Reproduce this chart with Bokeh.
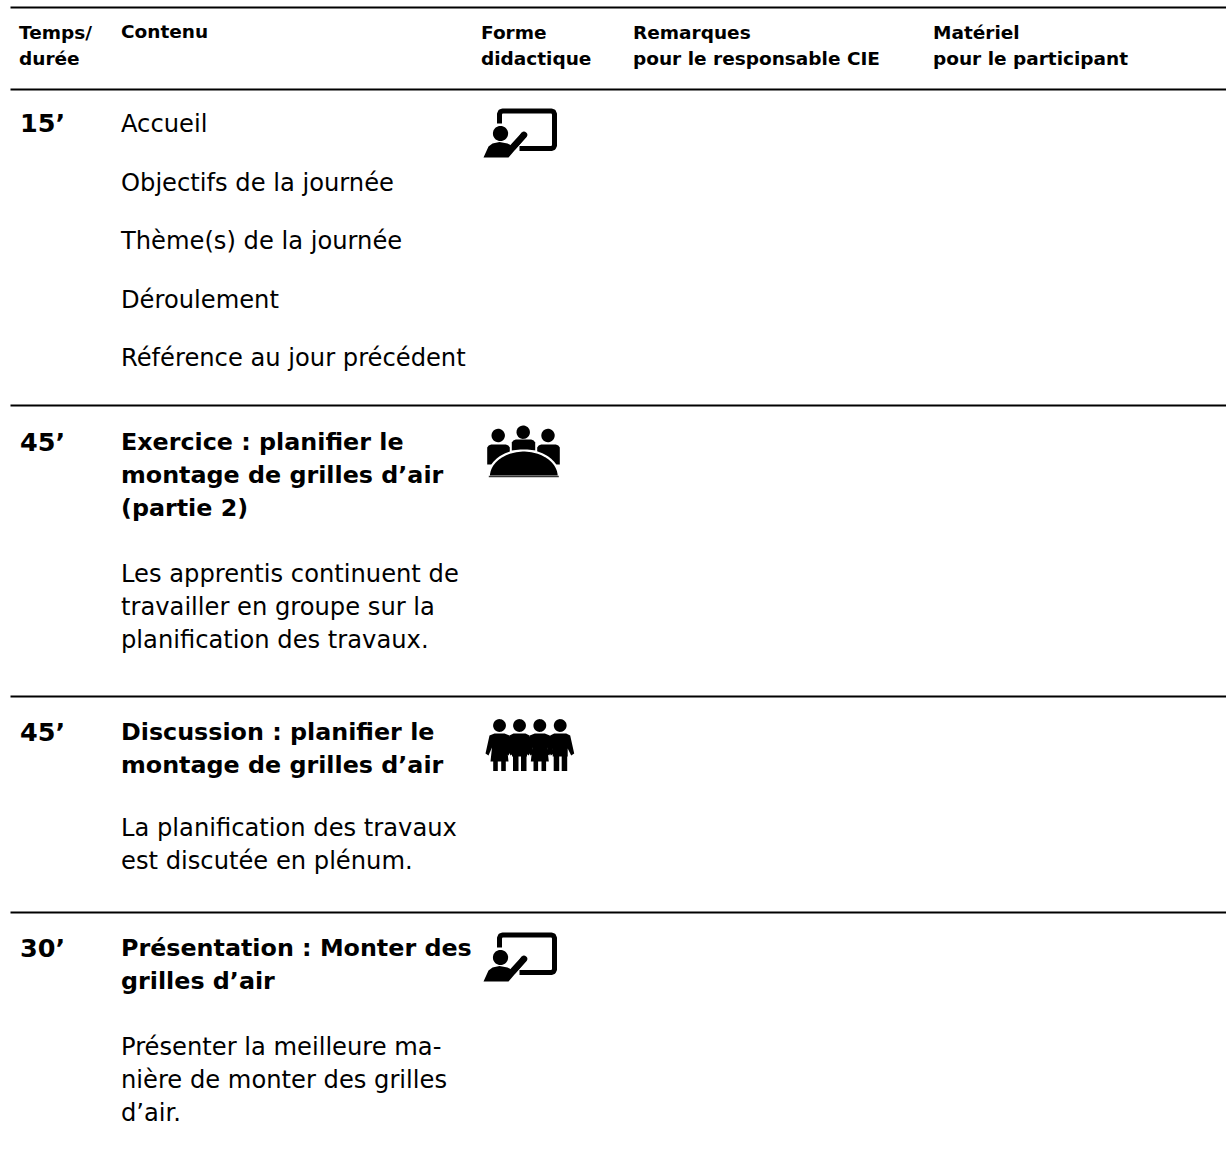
import numpy as np
from bokeh.plotting import figure
from bokeh.core.properties import value
from bokeh.embed import file_html
from bokeh.resources import INLINE

HEADERS = [("Temps/", "durée"), ("Contenu",), ("Forme", "didactique"),
           ("Remarques", "pour le responsable CIE"), ("Matériel", "pour le participant")]
TIMES = ["15’", "45’", "45’", "30’"]
FORMS = ["presentation", "plenum_table", "group", "presentation"]
ROW_LINES = [
    [("Accueil", 0), ("Objectifs de la journée", 0), ("Thème(s) de la journée", 0),
     ("Déroulement", 0), ("Référence au jour précédent", 0)],
    [("Exercice : planifier le", 1), ("montage de grilles d’air", 1), ("(partie 2)", 1),
     ("Les apprentis continuent de", 0), ("travailler en groupe sur la", 0),
     ("planification des travaux.", 0)],
    [("Discussion : planifier le", 1), ("montage de grilles d’air", 1),
     ("La planification des travaux", 0), ("est discutée en plénum.", 0)],
    [("Présentation : Monter des", 1), ("grilles d’air", 1),
     ("Présenter la meilleure ma-", 0), ("nière de monter des grilles", 0), ("d’air.", 0)],
]

# layout, in page pixels
FONT = "DejaVu Sans"
COL_X = [18.5, 120.5, 480.5, 632.5, 932.5]
RULES_Y = [7, 89, 405, 696, 912]
HEAD_BASE = [38, 64]
TIME_X = 19.5
TIME_BASE = [122.5, 441, 731.5, 947]
LINE_BASE = [
    [131, 190, 248, 307, 365],
    [449, 482, 515, 581, 614, 647],
    [739, 772, 835, 868],
    [955, 988, 1054, 1087, 1120],
]
LINE_SHIFT = -8
ICON_Y = [108, 425, 720, 932]
ICON_X = 483
BODY_SIZE = "24.2px"
BOLD_SIZE = "23.8px"
TIME_SIZE = "25.5px"
HEAD_SIZE = "18.5px"

W, H = 1226, 1160
p = figure(width=W, height=H, x_range=(0, W), y_range=(H, 0),
           output_backend="svg", toolbar_location=None, min_border=0,
           outline_line_color=None, background_fill_color="white", border_fill_color="white")
p.xaxis.visible = False
p.yaxis.visible = False
p.grid.visible = False

p.segment(x0=[10] * len(RULES_Y), x1=[1226] * len(RULES_Y), y0=RULES_Y, y1=RULES_Y,
          line_color="black", line_width=2)

# header
hx, hy, ht = [], [], []
for x, lines in zip(COL_X, HEADERS):
    for b, t in zip(HEAD_BASE, lines):
        hx.append(x); hy.append(b - 6); ht.append(t)
hy[2] -= 1
p.text(hx, hy, text=ht, text_font=value(FONT), text_font_style="bold",
       text_font_size=HEAD_SIZE, text_color="black", text_baseline="alphabetic")

# times
p.text([TIME_X] * 4, TIME_BASE, text=TIMES, text_font=value(FONT), text_font_style="bold",
       text_font_size=TIME_SIZE, text_color="black", text_baseline="alphabetic")

# content
for lines, bases in zip(ROW_LINES, LINE_BASE):
    for (t, bold), b in zip(lines, bases):
        p.text([COL_X[1]], [b + LINE_SHIFT], text=[t], text_font=value(FONT),
               text_font_style="bold" if bold else "normal",
               text_font_size=BOLD_SIZE if bold else BODY_SIZE,
               text_color="black", text_baseline="alphabetic")


def circle(cx, cy, r):
    a = np.linspace(0, 2 * np.pi, 40)
    p.patch(cx + r * np.cos(a), cy + r * np.sin(a), color="black", line_width=0)


def presentation(x, y):
    # x, y = left / top of the icon
    xs = [16, 16, 16.9, 19, 68, 70.1, 71, 71, 70.1, 68, 36]
    ys = [15, 5.5, 3.4, 2.5, 2.5, 3.4, 5.5, 37, 39.1, 40, 40]
    p.line(np.array(xs) + x, np.array(ys) + y, line_color="black", line_width=5, line_join="round")
    circle(x + 17, y + 25, 7.6)
    p.patch(np.array([0, 5, 9, 16, 24, 30, 38, 43, 25, 18, 0]) + x,
            np.array([49, 38, 35, 33.5, 35, 38, 24, 28, 49, 49, 49]) + y,
            color="black", line_width=0)
    p.line([x + 30, x + 40.5], [y + 38, y + 26.5], line_color="black", line_width=6.5, line_cap="round")


def plenum_table(x, y):
    for cx, hy, top, bot, hw in [(15, 10, 18, 39, 11.3), (40, 6.7, 13, 25, 11.7), (65, 10, 18, 39, 11.3)]:
        circle(x + cx - (0.5 if cx > 50 else 0.3), y + hy, 6.7)
        xs = np.array([-hw, -hw + 1.5, -hw + 4, hw - 4, hw - 1.5, hw, hw, -hw]) + cx + x
        ys = np.array([top + 4, top + 2, top + 1, top + 1, top + 2, top + 4, bot, bot]) + y
        p.patch(xs, ys, color="black", line_width=0)
    a = np.linspace(np.pi, 2 * np.pi, 50)
    tx = x + 40.3 + 35 * np.cos(a)
    ty = y + 51 + 26 * np.sin(a)
    p.patch(tx, ty, fill_color="black", line_color="white", line_width=2.2)
    p.line([x + 5.3, x + 75.3], [y + 51, y + 51], line_color="#333333", line_width=1.6)


def person(cx, y, woman):
    circle(cx, y + 5, 6.4)
    if woman:
        xs = [-5, 5, 10, 14, 11, 7.5, 9, -9, -7.5, -11, -14, -10]
        ys = [13, 13, 15, 33, 35, 27, 41, 41, 27, 35, 33, 15]
        p.patch(np.array(xs) + cx, np.array(ys) + y, color="black", line_width=0)
        for dx in (-6.3, 1.7):
            p.quad(left=cx + dx, right=cx + dx + 4.6, top=y + 40, bottom=y + 50.5, color="black", line_width=0)
    else:
        xs = [-6, 6, 10, 14, 11, 7.5, 7.5, -7.5, -7.5, -11, -14, -10]
        ys = [13, 13, 15, 33, 35, 28, 36, 36, 28, 35, 33, 15]
        p.patch(np.array(xs) + cx, np.array(ys) + y, color="black", line_width=0)
        p.quad(left=cx - 6.5, right=cx - 1, top=y + 35, bottom=y + 50.5, color="black", line_width=0)
        p.quad(left=cx + 1.5, right=cx + 7, top=y + 35, bottom=y + 50.5, color="black", line_width=0)


def group(x, y):
    for dx, w in [(16, True), (36, False), (56.3, True), (76.7, False)]:
        person(x + dx, y, w)


ICONS = {"presentation": presentation, "plenum_table": plenum_table, "group": group}
for form, y in zip(FORMS, ICON_Y):
    ICONS[form](ICON_X, y)

open("out.html", "w").write(file_html(p, INLINE))
